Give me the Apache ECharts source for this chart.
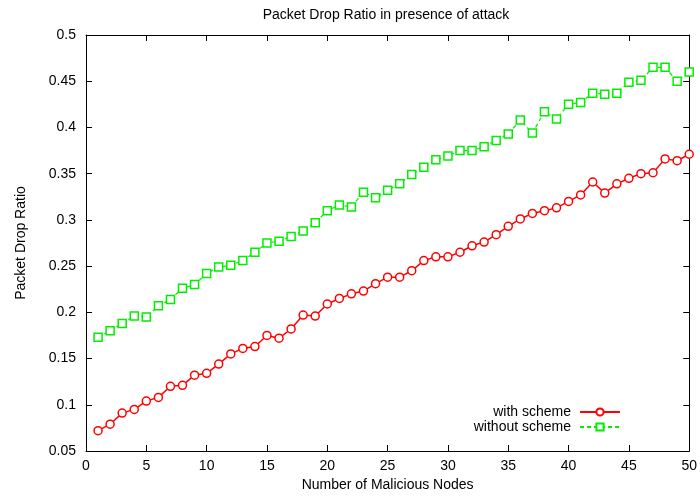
<!DOCTYPE html>
<html lang="en">
<head>
  <meta charset="UTF-8">
  <title>Packet Drop Ratio</title>
  <style>
    html, body { margin: 0; padding: 0; background: #fff; }
  </style>
</head>
<body>
  <div id="main" style="width:700px;height:499px;"></div>
  <script src="https://cdn.jsdelivr.net/npm/echarts@6/dist/echarts.min.js"></script>
  <script>
    var nodes = [];
    for (var i = 1; i <= 50; i++) nodes.push(i);

    var withScheme = [
      0.072, 0.079, 0.091, 0.095, 0.104, 0.108, 0.120, 0.121, 0.132, 0.134,
      0.144, 0.155, 0.161, 0.163, 0.175, 0.172, 0.182, 0.197, 0.196, 0.209,
      0.215, 0.220, 0.223, 0.231, 0.238, 0.238, 0.245, 0.256, 0.260, 0.260,
      0.265, 0.272, 0.276, 0.284, 0.293, 0.301, 0.307, 0.310, 0.313, 0.320,
      0.327, 0.341, 0.329, 0.339, 0.345, 0.350, 0.351, 0.366, 0.364, 0.371
    ];
    var withoutScheme = [
      0.173, 0.180, 0.188, 0.196, 0.195, 0.207, 0.214, 0.226, 0.230, 0.242,
      0.249, 0.251, 0.256, 0.265, 0.275, 0.277, 0.282, 0.288, 0.297, 0.310,
      0.316, 0.314, 0.330, 0.324, 0.332, 0.339, 0.349, 0.357, 0.365, 0.369,
      0.375, 0.375, 0.379, 0.386, 0.393, 0.408, 0.394, 0.417, 0.409, 0.425,
      0.427, 0.437, 0.436, 0.437, 0.449, 0.451, 0.465, 0.465, 0.450, 0.460
    ];

    var font = 'Liberation Sans, Arial, sans-serif';
    var fs = 14;
    var pair = function (ys) {
      return nodes.map(function (x, k) { return [x, ys[k]]; });
    };
    var fmtY = function (v) { return String(+v.toFixed(2)); };

    var axisBase = {
      axisLine: { show: true, onZero: false, lineStyle: { color: '#000', width: 1 } },
      axisTick: { show: true, inside: true, length: 6, lineStyle: { color: '#000' } },
      splitLine: { show: false }
    };
    var txt = { fontFamily: font, fontSize: fs, color: '#000' };

    var myChart = echarts.init(document.getElementById('main'));
    myChart.setOption({
      backgroundColor: '#fff',
      animation: false,
      title: {
        text: 'Packet Drop Ratio in presence of attack',
        left: 386, top: 8, textAlign: 'center', padding: 0,
        textStyle: Object.assign({ fontWeight: 'normal' }, txt)
      },
      grid: { left: 86, right: 10, top: 35, bottom: 48 },
      legend: [{
        data: ['with scheme'], right: 79, top: 405, align: 'right', padding: 0,
        itemWidth: 40, itemHeight: 9,
        textStyle: Object.assign({ padding: [0, 4, 0, 0] }, txt)
      }, {
        data: ['without scheme'], right: 79, top: 420, align: 'right', padding: 0,
        itemWidth: 40, itemHeight: 9,
        textStyle: Object.assign({ padding: [0, 4, 0, 0] }, txt)
      }],
      xAxis: [Object.assign({}, axisBase, {
        type: 'value', min: 0, max: 50, interval: 5, position: 'bottom',
        name: 'Number of Malicious Nodes', nameLocation: 'middle', nameGap: 22,
        nameTextStyle: txt,
        axisLabel: Object.assign({ margin: 8 }, txt)
      }), Object.assign({}, axisBase, {
        type: 'value', min: 0, max: 50, interval: 5, position: 'top',
        axisLabel: { show: false }
      })],
      yAxis: [Object.assign({}, axisBase, {
        type: 'value', min: 0.05, max: 0.5, interval: 0.05, position: 'left',
        name: 'Packet Drop Ratio', nameLocation: 'middle', nameGap: 58, nameRotate: 90,
        nameTextStyle: txt,
        axisLabel: Object.assign({ margin: 10, formatter: fmtY }, txt)
      }), Object.assign({}, axisBase, {
        type: 'value', min: 0.05, max: 0.5, interval: 0.05, position: 'right',
        axisLabel: { show: false }
      })],
      series: [{
        name: 'with scheme', type: 'line', data: pair(withScheme),
        symbol: 'circle', symbolSize: 8, showSymbol: true,
        itemStyle: { color: '#fff', borderColor: '#ff0000', borderWidth: 1.5 },
        lineStyle: { color: '#ff0000', width: 1.5 },
        color: '#ff0000'
      }, {
        name: 'without scheme', type: 'line', data: pair(withoutScheme),
        symbol: 'rect', symbolSize: 8, showSymbol: true,
        itemStyle: { color: '#fff', borderColor: '#00ee00', borderWidth: 1.5 },
        lineStyle: { color: '#00ee00', width: 1.2, type: [4, 3] },
        color: '#00ee00'
      }]
    });
  </script>
</body>
</html>
